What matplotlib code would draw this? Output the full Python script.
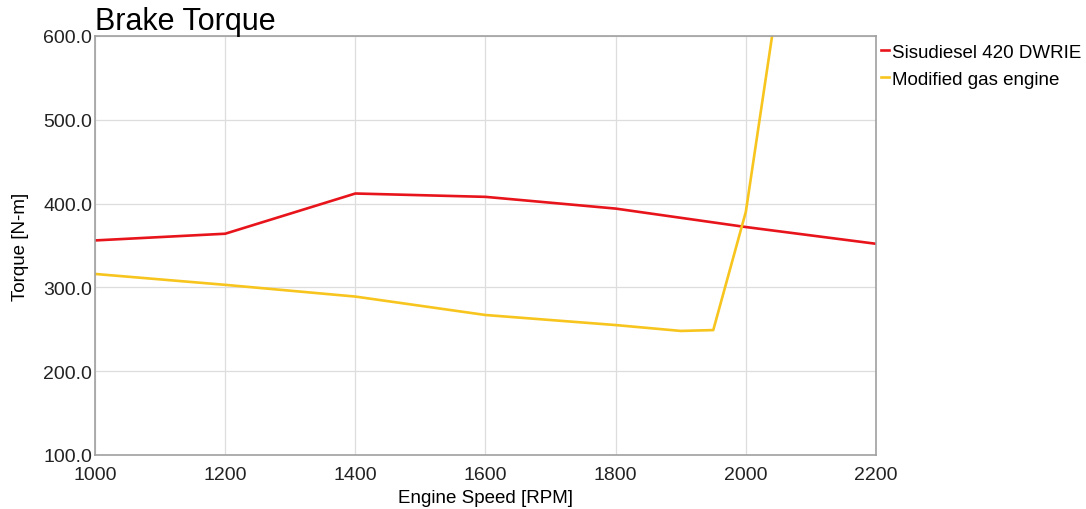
import matplotlib.pyplot as plt

plt.rcParams["font.family"] = ["Liberation Sans", "DejaVu Sans"]

# Engine speed [RPM] and brake torque [N-m]
rpm_diesel = [1000, 1200, 1400, 1600, 1800, 2000, 2200]
torque_diesel = [356, 364, 412, 408, 394, 372, 352]

rpm_gas = [1000, 1200, 1400, 1600, 1800, 1900, 1950, 2000, 2050]
torque_gas = [316, 303, 289, 267, 255, 248, 249, 390, 650]

x_ticks = [1000, 1200, 1400, 1600, 1800, 2000, 2200]
y_ticks = [100, 200, 300, 400, 500, 600]

fig = plt.figure(figsize=(10.86, 5.10), dpi=100)
ax = fig.add_axes([0.0875, 0.106, 0.7191, 0.8215])

ax.plot(rpm_diesel, torque_diesel, color="#E8141B", linewidth=1.9,
        label="Sisudiesel 420 DWRIE")
ax.plot(rpm_gas, torque_gas, color="#F7C51E", linewidth=1.9,
        label="Modified gas engine")

ax.set_xlim(1000, 2200)
ax.set_ylim(100, 600)
ax.set_xticks(x_ticks)
ax.set_yticks(y_ticks)
ax.set_yticklabels([f"{v:.1f}" for v in y_ticks])
ax.tick_params(length=0, labelsize=14, colors="#222222")
ax.tick_params(axis="x", pad=8)
ax.tick_params(axis="y", pad=2)
ax.grid(True, color="#DDDDDD", linewidth=0.9)
ax.set_axisbelow(True)
for s in ax.spines.values():
    s.set_color("#A0A0A0")
    s.set_linewidth(1.2)

ax.set_xlabel("Engine Speed [RPM]", fontsize=13.5, labelpad=4)
ax.set_ylabel("Torque [N-m]", fontsize=13.5, labelpad=10)
ax.set_title("Brake Torque", loc="left", fontsize=22, pad=1)

ax.legend(loc="upper left", bbox_to_anchor=(1.002, 0.99), frameon=False,
          fontsize=13.5, handlelength=0.4, handletextpad=0.15,
          borderaxespad=0.1, labelspacing=0.5, borderpad=0.1)

fig.savefig("out.png", dpi=100)
